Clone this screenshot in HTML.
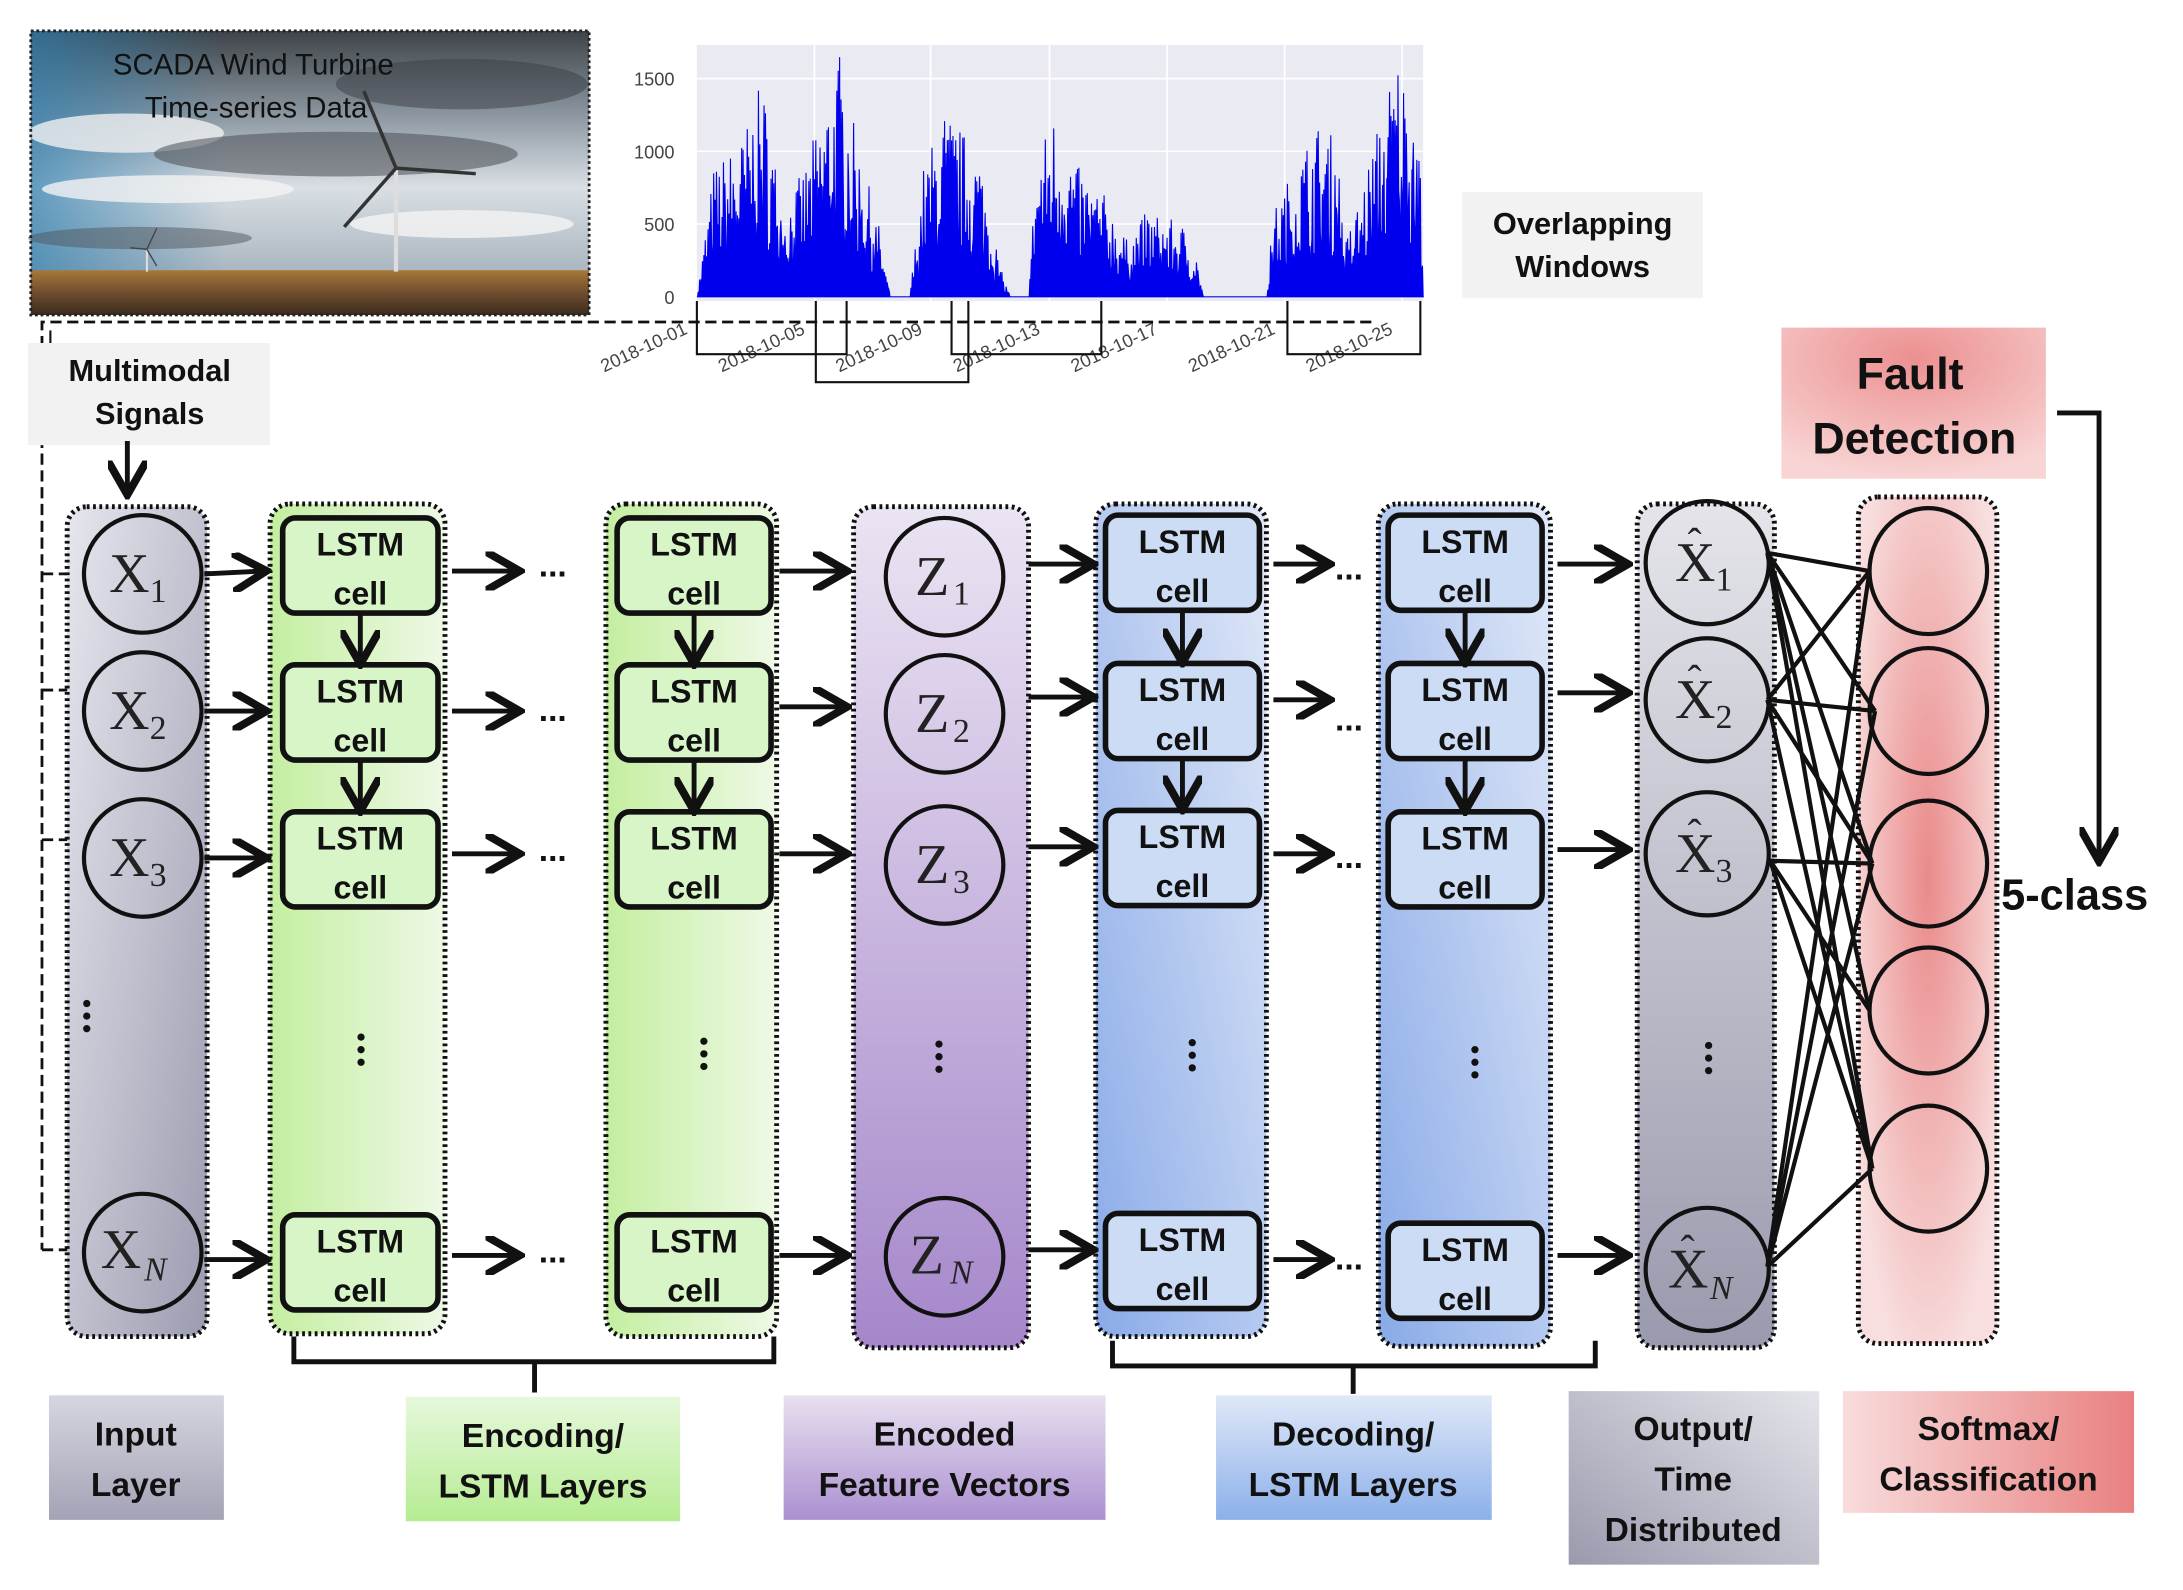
<!DOCTYPE html>
<html><head><meta charset="utf-8"><style>
html,body{margin:0;padding:0;background:#fff;}
svg{display:block}
text{font-family:"Liberation Sans",sans-serif;}
.lab{font-size:24px;font-weight:bold;fill:#111;text-anchor:middle}
.ct{font-size:23px;font-weight:bold;text-anchor:middle;fill:#111}
.m{font-family:"Liberation Serif",serif;font-size:40px;fill:#222}
.sub{font-family:"Liberation Serif",serif;font-size:24px;fill:#222}
.hat{font-family:"Liberation Serif",serif;font-size:30px;fill:#222}
</style></head><body>
<svg id="s" width="2183" height="1590" viewBox="0 0 1560 1136" xmlns="http://www.w3.org/2000/svg">
<defs>
<marker id="ah" markerWidth="8" markerHeight="8" refX="6" refY="4" orient="auto" markerUnits="strokeWidth"><path d="M0,0 L7,4 L0,8" fill="none" stroke="#111" stroke-width="1.6"/></marker>
<marker id="ahs" markerWidth="10" markerHeight="10" refX="8" refY="5" orient="auto" markerUnits="userSpaceOnUse"><path d="M0,0 L9,5 L0,10" fill="none" stroke="#111" stroke-width="1.5"/></marker>
<linearGradient id="sky" x1="0" y1="0" x2="0" y2="1"><stop offset="0" stop-color="#3e4348"/><stop offset="0.3" stop-color="#8d98a2"/><stop offset="0.55" stop-color="#d9dfe4"/><stop offset="0.85" stop-color="#aab6c0"/></linearGradient>
<linearGradient id="skyb" x1="0" y1="0" x2="1" y2="0"><stop offset="0" stop-color="#2f7fb0" stop-opacity="0.7"/><stop offset="0.35" stop-color="#2f7fb0" stop-opacity="0"/></linearGradient>
<linearGradient id="gnd" x1="0" y1="0" x2="0" y2="1"><stop offset="0" stop-color="#a87838"/><stop offset="0.4" stop-color="#7a5530"/><stop offset="1" stop-color="#3a2a1e"/></linearGradient>
<linearGradient id="gin" x1="0" y1="0" x2="1" y2="1"><stop offset="0" stop-color="#e6e6ee"/><stop offset="1" stop-color="#9c9cb0"/></linearGradient>
<linearGradient id="ggr" x1="0" y1="0" x2="1" y2="0"><stop offset="0" stop-color="#c4eea0"/><stop offset="1" stop-color="#eef9e6"/></linearGradient>
<linearGradient id="gpu" x1="0" y1="0" x2="0" y2="1"><stop offset="0" stop-color="#ebe4f3"/><stop offset="1" stop-color="#a587ca"/></linearGradient>
<linearGradient id="gbl" x1="1" y1="0" x2="0" y2="1"><stop offset="0" stop-color="#e2e9f8"/><stop offset="1" stop-color="#89aae8"/></linearGradient>
<linearGradient id="gout" x1="0" y1="0" x2="0" y2="1"><stop offset="0" stop-color="#e4e4ea"/><stop offset="1" stop-color="#9a9aae"/></linearGradient>
<radialGradient id="gpk" cx="0.5" cy="0.45" r="0.6"><stop offset="0" stop-color="#ea8a8a"/><stop offset="1" stop-color="#f8dede"/></radialGradient>
<radialGradient id="gfd" cx="0.5" cy="0.2" r="0.8"><stop offset="0" stop-color="#ec9090"/><stop offset="1" stop-color="#f8d4d4"/></radialGradient>
<linearGradient id="gsm" x1="0" y1="0" x2="1" y2="0"><stop offset="0" stop-color="#f8dcdc"/><stop offset="1" stop-color="#e98080"/></linearGradient>
<linearGradient id="lin" x1="0" y1="0" x2="0" y2="1"><stop offset="0" stop-color="#d6d6e0"/><stop offset="1" stop-color="#a3a3b6"/></linearGradient>
<linearGradient id="lgr" x1="0" y1="0" x2="0" y2="1"><stop offset="0" stop-color="#e6f8dc"/><stop offset="1" stop-color="#b6ec92"/></linearGradient>
<linearGradient id="lpu" x1="0" y1="0" x2="0" y2="1"><stop offset="0" stop-color="#e8e0f0"/><stop offset="1" stop-color="#ab90d0"/></linearGradient>
<linearGradient id="lbl" x1="0" y1="0" x2="0" y2="1"><stop offset="0" stop-color="#dfe8f8"/><stop offset="1" stop-color="#8cb0ea"/></linearGradient>
<linearGradient id="lout" x1="1" y1="0" x2="0" y2="1"><stop offset="0" stop-color="#e4e4ea"/><stop offset="1" stop-color="#9a9aae"/></linearGradient>
</defs>

<!-- photo -->
<rect x="22" y="22" width="399" height="203" fill="url(#sky)"/>
<rect x="22" y="22" width="399" height="180" fill="url(#skyb)"/>
<ellipse cx="90" cy="95" rx="70" ry="14" fill="#f0f0f0" opacity="0.8"/>
<ellipse cx="120" cy="135" rx="90" ry="10" fill="#f2f2f2" opacity="0.8"/>
<ellipse cx="330" cy="160" rx="80" ry="10" fill="#f4f4f4" opacity="0.8"/>
<ellipse cx="240" cy="110" rx="130" ry="16" fill="#4a4e54" opacity="0.55"/>
<ellipse cx="330" cy="60" rx="90" ry="18" fill="#3a3e44" opacity="0.5"/>
<ellipse cx="100" cy="170" rx="80" ry="8" fill="#50555c" opacity="0.5"/>
<rect x="22" y="193" width="399" height="32" fill="url(#gnd)"/>
<line x1="283" y1="120" x2="283" y2="194" stroke="#ddd" stroke-width="3"/>
<path d="M283,120 L260,65 M283,120 L340,124 M283,120 L246,162" stroke="#333" stroke-width="2.5"/>
<line x1="105" y1="178" x2="105" y2="194" stroke="#ddd" stroke-width="1.5"/>
<path d="M105,178 L112,163 M105,178 L93,177 M105,178 L112,190" stroke="#444" stroke-width="1"/>
<rect x="22" y="22" width="399" height="203" fill="none" stroke="#222" stroke-width="2" stroke-dasharray="2,2"/>
<text x="181" y="53" font-size="21" text-anchor="middle" fill="#111">SCADA Wind Turbine</text>
<text x="183" y="84" font-size="21" text-anchor="middle" fill="#111">Time-series Data</text>

<!-- chart -->
<rect x="498" y="32" width="519" height="183" fill="#eaeaf2"/>
<g stroke="#fff" stroke-width="1.2">
<line x1="498" y1="56" x2="1017" y2="56"/><line x1="498" y1="108" x2="1017" y2="108"/><line x1="498" y1="160" x2="1017" y2="160"/><line x1="498" y1="212" x2="1017" y2="212"/>
<line x1="582" y1="32" x2="582" y2="215"/><line x1="665" y1="32" x2="665" y2="215"/><line x1="750" y1="32" x2="750" y2="215"/><line x1="834" y1="32" x2="834" y2="215"/><line x1="918" y1="32" x2="918" y2="215"/><line x1="1002" y1="32" x2="1002" y2="215"/>
</g>
<g id="bars"></g>
<g font-size="13" fill="#444" text-anchor="end">
<text x="482" y="61">1500</text><text x="482" y="113">1000</text><text x="482" y="165">500</text><text x="482" y="217">0</text>
</g>
<g font-size="13" fill="#444" text-anchor="end">
<text transform="translate(492,238) rotate(-25)">2018-10-01</text>
<text transform="translate(576,238) rotate(-25)">2018-10-05</text>
<text transform="translate(660,238) rotate(-25)">2018-10-09</text>
<text transform="translate(744,238) rotate(-25)">2018-10-13</text>
<text transform="translate(828,238) rotate(-25)">2018-10-17</text>
<text transform="translate(912,238) rotate(-25)">2018-10-21</text>
<text transform="translate(996,238) rotate(-25)">2018-10-25</text>
</g>
<g fill="none" stroke="#111" stroke-width="1.5">
<path d="M498,215 V253 H605 V215"/><path d="M583,215 V273 H692 V215"/><path d="M680,215 V253 H787 V215"/><path d="M920,215 V253 H1015 V215"/>
</g>
<rect x="1045" y="137" width="172" height="76" fill="#f2f2f2"/>
<text x="1131" y="167" class="lab" style="font-size:22px">Overlapping</text>
<text x="1131" y="198" class="lab" style="font-size:22px">Windows</text>

<!-- dashed feed line -->
<g fill="none" stroke="#111" stroke-width="2" stroke-dasharray="8,4">
<path d="M980,230 H30 V893"/>
<line x1="30" y1="410" x2="58" y2="410" marker-end="url(#ahs)"/>
<line x1="30" y1="493" x2="58" y2="493" marker-end="url(#ahs)"/>
<line x1="30" y1="600" x2="58" y2="600" marker-end="url(#ahs)"/>
<line x1="30" y1="893" x2="58" y2="893" marker-end="url(#ahs)"/>
</g>
<line x1="36" y1="236" x2="36" y2="260" stroke="#111" stroke-width="1.5"/>

<rect x="20" y="245" width="173" height="73" fill="#f2f2f2"/>
<text x="107" y="272" class="lab" style="font-size:22px">Multimodal</text>
<text x="107" y="303" class="lab" style="font-size:22px">Signals</text>
<line x1="91" y1="315" x2="91" y2="350" stroke="#111" stroke-width="3.5" marker-end="url(#ah)"/>

<!-- columns -->
<g stroke="#111" stroke-width="3.5" stroke-dasharray="2,2.5">
<rect x="48" y="362" width="100" height="593" rx="14" fill="url(#gin)"/>
<rect x="193" y="360" width="125" height="593" rx="14" fill="url(#ggr)"/>
<rect x="433" y="360" width="122" height="595" rx="14" fill="url(#ggr)"/>
<rect x="610" y="362" width="125" height="601" rx="14" fill="url(#gpu)"/>
<rect x="783" y="360" width="122" height="595" rx="14" fill="url(#gbl)"/>
<rect x="985" y="360" width="123" height="602" rx="14" fill="url(#gbl)"/>
<rect x="1170" y="360" width="98" height="603" rx="14" fill="url(#gout)"/>
<rect x="1328" y="355" width="99" height="605" rx="14" fill="url(#gpk)"/>
</g>

<g fill="none" stroke="#111" stroke-width="3">
<circle cx="102" cy="410" r="42"/><circle cx="102" cy="508" r="42"/><circle cx="102" cy="613" r="42"/><circle cx="102" cy="895" r="42"/>
<circle cx="675" cy="412" r="42"/><circle cx="675" cy="510" r="42"/><circle cx="675" cy="618" r="42"/><circle cx="675" cy="898" r="42"/>
<circle cx="1220" cy="402" r="44"/><circle cx="1220" cy="500" r="44"/><circle cx="1220" cy="610" r="44"/><circle cx="1220" cy="907" r="44"/>
<ellipse cx="1378" cy="408" rx="42" ry="45"/><ellipse cx="1378" cy="508" rx="42" ry="45"/><ellipse cx="1378" cy="617" rx="42" ry="45"/><ellipse cx="1378" cy="722" rx="42" ry="45"/><ellipse cx="1378" cy="835" rx="42" ry="45"/>
</g>
<g>
<text class="m" x="78" y="423">X</text><text class="sub" x="107" y="430">1</text>
<text class="m" x="78" y="521">X</text><text class="sub" x="107" y="528">2</text>
<text class="m" x="78" y="626">X</text><text class="sub" x="107" y="633">3</text>
<text class="m" x="72" y="906">X</text><text class="sub" x="103" y="915" font-style="italic">N</text>
<text class="m" x="654" y="425">Z</text><text class="sub" x="681" y="432">1</text>
<text class="m" x="654" y="523">Z</text><text class="sub" x="681" y="530">2</text>
<text class="m" x="654" y="631">Z</text><text class="sub" x="681" y="638">3</text>
<text class="m" x="650" y="910">Z</text><text class="sub" x="679" y="917" font-style="italic">N</text>
<text class="m" x="1197" y="415">X</text><text class="sub" x="1226" y="422">1</text><text class="hat" x="1206" y="398">ˆ</text>
<text class="m" x="1197" y="513">X</text><text class="sub" x="1226" y="520">2</text><text class="hat" x="1206" y="496">ˆ</text>
<text class="m" x="1197" y="623">X</text><text class="sub" x="1226" y="630">3</text><text class="hat" x="1206" y="606">ˆ</text>
<text class="m" x="1192" y="920">X</text><text class="sub" x="1222" y="928" font-style="italic">N</text><text class="hat" x="1201" y="903">ˆ</text>
</g>

<g id="cells"></g>

<g fill="#111">
<circle cx="62" cy="717" r="2.6"/><circle cx="62" cy="726" r="2.6"/><circle cx="62" cy="735" r="2.6"/>
<circle cx="258" cy="741" r="2.6"/><circle cx="258" cy="750" r="2.6"/><circle cx="258" cy="759" r="2.6"/>
<circle cx="503" cy="744" r="2.6"/><circle cx="503" cy="753" r="2.6"/><circle cx="503" cy="762" r="2.6"/>
<circle cx="671" cy="746" r="2.6"/><circle cx="671" cy="755" r="2.6"/><circle cx="671" cy="764" r="2.6"/>
<circle cx="852" cy="745" r="2.6"/><circle cx="852" cy="754" r="2.6"/><circle cx="852" cy="763" r="2.6"/>
<circle cx="1054" cy="750" r="2.6"/><circle cx="1054" cy="759" r="2.6"/><circle cx="1054" cy="768" r="2.6"/>
<circle cx="1221" cy="747" r="2.6"/><circle cx="1221" cy="756" r="2.6"/><circle cx="1221" cy="765" r="2.6"/>
</g>

<g id="arr" stroke="#111" stroke-width="3.5" fill="none"></g>
<g font-size="24" font-weight="bold" fill="#111">
<text x="385" y="412">...</text><text x="385" y="515">...</text><text x="385" y="615">...</text><text x="385" y="902">...</text>
<text x="954" y="414">...</text><text x="954" y="522">...</text><text x="954" y="620">...</text><text x="954" y="907">...</text>
</g>

<g id="fc" stroke="#111" stroke-width="3"></g>

<rect x="1273" y="234" width="189" height="108" fill="url(#gfd)"/>
<text x="1365" y="278" class="lab" style="font-size:32px">Fault</text>
<text x="1368" y="324" class="lab" style="font-size:32px">Detection</text>
<path d="M1470,295 H1500 V612" stroke="#111" stroke-width="3.5" fill="none" marker-end="url(#ah)"/>
<text x="1430" y="650" font-size="31" font-weight="bold" fill="#111">5-class</text>

<g fill="none" stroke="#111" stroke-width="3.5">
<path d="M210,955 V973 H553 V955 M382,973 V995"/>
<path d="M795,958 V976 H1140 V958 M967,976 V996"/>
</g>

<rect x="35" y="997" width="125" height="89" fill="url(#lin)"/>
<text x="97" y="1033" class="lab">Input</text><text x="97" y="1069" class="lab">Layer</text>
<rect x="290" y="998" width="196" height="89" fill="url(#lgr)"/>
<text x="388" y="1034" class="lab">Encoding/</text><text x="388" y="1070" class="lab">LSTM Layers</text>
<rect x="560" y="997" width="230" height="89" fill="url(#lpu)"/>
<text x="675" y="1033" class="lab">Encoded</text><text x="675" y="1069" class="lab">Feature Vectors</text>
<rect x="869" y="997" width="197" height="89" fill="url(#lbl)"/>
<text x="967" y="1033" class="lab">Decoding/</text><text x="967" y="1069" class="lab">LSTM Layers</text>
<rect x="1121" y="994" width="179" height="124" fill="url(#lout)"/>
<text x="1210" y="1029" class="lab">Output/</text><text x="1210" y="1065" class="lab">Time</text><text x="1210" y="1101" class="lab">Distributed</text>
<rect x="1317" y="994" width="208" height="87" fill="url(#gsm)"/>
<text x="1421" y="1029" class="lab">Softmax/</text><text x="1421" y="1065" class="lab">Classification</text>
</svg>
<script>
var NS="http://www.w3.org/2000/svg";
function el(p,t,a,txt){var e=document.createElementNS(NS,t);for(var k in a)e.setAttribute(k,a[k]);if(txt)e.textContent=txt;document.getElementById(p).appendChild(e);return e;}
var seed=7;function rnd(){seed=(seed*16807)%2147483647;return seed/2147483647;}
var env=[[498,0],[502,300],[510,900],[530,1100],[545,1500],[560,600],[575,900],[588,1300],[600,1700],[612,1100],[628,500],[636,0],[650,0],[660,900],[675,1300],[700,1000],[715,200],[722,0],[735,0],[740,900],[752,1300],[770,900],[790,700],[805,400],[820,600],[845,500],[855,300],[860,0],[905,0],[910,600],[925,900],[940,1200],[955,1100],[962,400],[972,700],[985,1200],[998,1700],[1008,1400],[1013,1700],[1017,0]];
function envAt(x){for(var i=0;i<env.length-1;i++){if(x>=env[i][0]&&x<=env[i+1][0]){var t=(x-env[i][0])/(env[i+1][0]-env[i][0]);return env[i][1]+t*(env[i+1][1]-env[i][1]);}}return 0;}
var d="M498,212";
for(var x=498;x<=1017;x+=1){var v=envAt(x)*(0.25+0.75*rnd());var y=212-v*0.104;d+=" L"+x+","+y.toFixed(1)+" L"+(x+0.5)+","+(212-envAt(x)*0.104*rnd()*0.6).toFixed(1);}
d+=" L1017,212 Z";
el("bars","path",{d:d,fill:"#0000ee",stroke:"#0000ee","stroke-width":"0.8"});
var cols=[[202,313,[370,475,580,868]],[441,551,[370,475,580,868]],[790,900,[368,474,579,867]],[992,1102,[368,474,580,874]]];
var fills=["#d8f5c8","#d8f5c8","#cddcf5","#cddcf5"];
cols.forEach(function(c,i){c[2].forEach(function(y,j){
 el("cells","rect",{x:c[0],y:y,width:c[1]-c[0],height:68,rx:9,fill:fills[i],stroke:"#111","stroke-width":4});
 var cx=(c[0]+c[1])/2;
 el("cells","text",{x:cx,y:y+27,"class":"ct"},"LSTM");
 el("cells","text",{x:cx,y:y+62,"class":"ct"},"cell");
 if(j<2){el("arr","line",{x1:cx,y1:y+68,x2:cx,y2:c[2][j+1]-4,"marker-end":"url(#ah)"});}
});});
function ar(x1,y1,x2,y2){el("arr","line",{x1:x1,y1:y1,x2:x2,y2:y2,"marker-end":"url(#ah)"});}
[[410,408],[508,508],[613,613],[900,900]].forEach(function(r){ar(146,r[0],187,r[1]);});
[408,508,610,897].forEach(function(y){ar(323,y,368,y);});
[408,505,610,897].forEach(function(y){ar(557,y,602,y);});
[403,498,605,893].forEach(function(y){ar(735,y,778,y);});
[403,500,610,900].forEach(function(y){ar(910,y,947,y);});
[403,495,607,897].forEach(function(y){ar(1113,y,1160,y);});
var src=[[1263,395],[1263,500],[1265,615],[1263,905]];
var dst=[[1336,408],[1340,508],[1338,617],[1336,722],[1338,835]];
var pairs=[[0,0],[0,1],[0,2],[0,3],[0,4],[1,0],[1,1],[1,2],[1,4],[2,2],[2,3],[2,4],[3,0],[3,1],[3,2],[3,4]];
pairs.forEach(function(p){el("fc","line",{x1:src[p[0]][0],y1:src[p[0]][1],x2:dst[p[1]][0],y2:dst[p[1]][1]});});
</script>
</body></html>
